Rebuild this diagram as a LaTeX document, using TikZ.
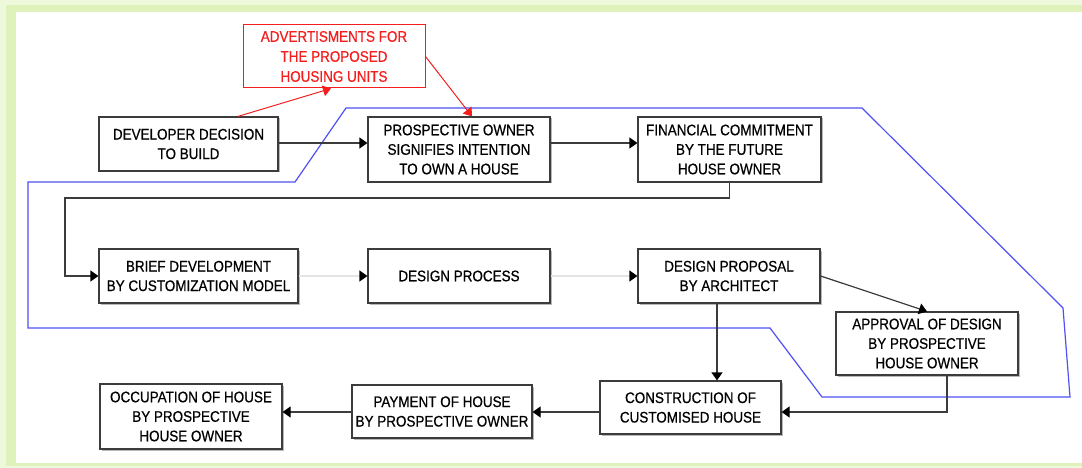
\documentclass[tikz,border=0pt]{standalone}
\usepackage{fontspec}
\setmainfont{Liberation Sans}[FakeStretch=0.88,FakeBold=0.6]
\usetikzlibrary{arrows.meta,calc,shadows}
\definecolor{framegreen}{RGB}{224,242,188}
\definecolor{framegreenlight}{RGB}{238,248,218}
\definecolor{boxline}{RGB}{60,60,60}
\definecolor{bluepath}{RGB}{80,80,245}
\definecolor{lightline}{RGB}{228,228,228}
\definecolor{adred}{RGB}{245,30,30}
\tikzset{
  box/.style={draw=boxline, line width=1.2pt, fill=white, align=center, inner sep=0pt,
    font=\fontsize{15.3}{19.5}\selectfont,
    drop shadow={shadow xshift=1.5pt, shadow yshift=-1.5pt, fill=black!28, opacity=1}},
  adbox/.style={draw=adred, line width=1pt, fill=white, align=center, inner sep=0pt,
    text=adred, font=\fontsize{15.3}{20}\selectfont},
  tip/.style={-{Triangle[length=8pt,width=11pt,color=black]}},
  conn/.style={draw=boxline, line width=1.2pt, tip},
  faint/.style={draw=lightline, line width=1.2pt, tip},
  redconn/.style={draw=adred, line width=1pt, -{Triangle[length=8pt,width=11pt,color=adred]}},
  region/.style={draw=bluepath, line width=1.2pt}
}
\begin{document}
\begin{tikzpicture}[x=1pt,y=-1pt]
% frame
\useasboundingbox (0,0) rectangle (1082,468);
\fill[framegreenlight] (0,0) rectangle (1082,468);
\fill[framegreen] (6,5) rectangle (1082,466);
\fill[white] (16,12) rectangle (1082,463);

% blue region
\draw[region] (28,182) -- (295,182) -- (346,108) -- (862,108) -- (1063,308)
  -- (1070,397) -- (822,397) -- (770,328) -- (28,328) -- cycle;

% nodes
\node[adbox, minimum width=182pt, minimum height=63pt] (ad) at (334,56.5)
  {ADVERTISMENTS FOR\\THE PROPOSED\\HOUSING UNITS};
\node[box, minimum width=179pt, minimum height=54pt] (dev) at (188.5,144)
  {DEVELOPER DECISION\\TO BUILD};
\node[box, minimum width=182pt, minimum height=65pt] (pro) at (459,149.5)
  {PROSPECTIVE OWNER\\SIGNIFIES INTENTION\\TO OWN A HOUSE};
\node[box, minimum width=183pt, minimum height=65pt] (fin) at (729.5,149.5)
  {FINANCIAL COMMITMENT\\BY THE FUTURE\\HOUSE OWNER};
\node[box, minimum width=199pt, minimum height=54pt] (brief) at (198.5,276)
  {BRIEF DEVELOPMENT\\BY CUSTOMIZATION MODEL};
\node[box, minimum width=182pt, minimum height=54pt] (dp) at (459,276)
  {DESIGN PROCESS};
\node[box, minimum width=182pt, minimum height=54pt] (prop) at (729,276)
  {DESIGN PROPOSAL\\BY ARCHITECT};
\node[box, minimum width=182pt, minimum height=63pt] (appr) at (927,343.5)
  {APPROVAL OF DESIGN\\BY PROSPECTIVE\\HOUSE OWNER};
\node[box, minimum width=181pt, minimum height=53pt] (cons) at (690.5,407.5)
  {CONSTRUCTION OF\\CUSTOMISED HOUSE};
\node[box, minimum width=180pt, minimum height=53pt] (pay) at (442,411.5)
  {PAYMENT OF HOUSE\\BY PROSPECTIVE OWNER};
\node[box, minimum width=182pt, minimum height=65pt] (occ) at (191,416.5)
  {OCCUPATION OF HOUSE\\BY PROSPECTIVE\\HOUSE OWNER};

% helper coordinates
\coordinate (row1) at (0,143);
\coordinate (turnA) at (65,198);
\coordinate (row3) at (0,412);
\coordinate (vline) at (717,0);
\coordinate (apdrop) at (947,0);

% connectors
\draw[redconn] ($(dev.north)+(49.5,0)$) -- ($(ad.south)+(-3,0)$);
\draw[redconn] (ad.east) -- ($(pro.north)+(13,0)$);
\draw[conn] (dev.east |- row1) -- (pro.west |- row1);
\draw[conn] (pro.east |- row1) -- (fin.west |- row1);
\draw[conn] (fin.south) |- (turnA) |- (brief.west);
\draw[faint] (brief.east) -- (dp.west);
\draw[faint] (dp.east) -- (prop.west);
\draw[conn] (prop.east) -- (appr.north);
\draw[conn] (prop.south -| vline) -- (cons.north -| vline);
\draw[conn] (appr.south -| apdrop) |- (cons.east |- row3);
\draw[conn] (cons.west |- row3) -- (pay.east |- row3);
\draw[conn] (pay.west |- row3) -- (occ.east |- row3);
\end{tikzpicture}
\end{document}
